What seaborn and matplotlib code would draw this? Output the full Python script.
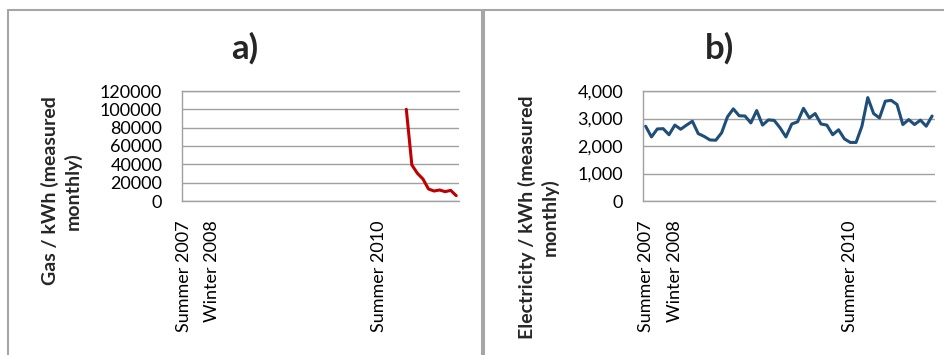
import numpy as np
import pandas as pd
import matplotlib
matplotlib.use("Agg")
import matplotlib.pyplot as plt
from matplotlib.lines import Line2D
from matplotlib.ticker import FuncFormatter, MultipleLocator
import seaborn as sns

# ---- data (monthly readings, 50 months starting summer 2007) ----
n_months = 50
elec_kwh = [2720, 2330, 2620, 2630, 2410, 2760, 2610, 2760, 2900, 2450,
            2350, 2220, 2210, 2480, 3060, 3350, 3100, 3090, 2840, 3290,
            2760, 2950, 2930, 2660, 2330, 2800, 2880, 3370, 3020, 3180,
            2800, 2760, 2410, 2590, 2260, 2130, 2130, 2720, 3760, 3180,
            3020, 3630, 3660, 3510, 2780, 2960, 2780, 2940, 2720, 3090]
gas_start = 40
gas_kwh = [100000, 39300, 30200, 24000, 13100, 10900, 12000, 10200, 11600, 5800]
x_label_pos = [0, 5, 35]
x_labels = ["Summer 2007", "Winter 2008", "Summer 2010"]
titles = ["a)", "b)"]
ylabels = ["Gas / kWh (measured\nmonthly)", "Electricity / kWh (measured\nmonthly)"]

elec_df = pd.DataFrame({"month": np.arange(n_months), "kwh": elec_kwh})
gas_df = pd.DataFrame({"month": np.arange(gas_start, gas_start + len(gas_kwh)), "kwh": gas_kwh})

sns.set_style("white")
plt.rcParams["font.family"] = ["Lato", "DejaVu Sans"]

W, H = 945, 355
fig = plt.figure(figsize=(W / 100, H / 100), dpi=100)

def fx(px):
    return px / W

def fy(py):
    return 1 - py / H

border = "#a6a6a6"
grid_c = "#a0a0a0"

# chart-area borders
for (x0, x1) in [(8.3, 481.7), (484.3, 960)]:
    fig.add_artist(Line2D([fx(x0), fx(x0)], [fy(9.7), fy(400)], color=border, lw=1.5, transform=fig.transFigure))
    fig.add_artist(Line2D([fx(x0), fx(x1)], [fy(9.7), fy(9.7)], color=border, lw=1.5, transform=fig.transFigure))
    fig.add_artist(Line2D([fx(x1), fx(x1)], [fy(9.7), fy(400)], color=border, lw=1.5, transform=fig.transFigure))

ax_a = fig.add_axes([fx(181.7), fy(201), fx(459) - fx(181.7), fy(91) - fy(201)])
ax_b = fig.add_axes([fx(642.7), fy(201), fx(935) - fx(642.7), fy(91) - fy(201)])

sns.lineplot(data=gas_df, x="month", y="kwh", ax=ax_a, color="#c00000", lw=2.2)
sns.lineplot(data=elec_df, x="month", y="kwh", ax=ax_b, color="#1f4e79", lw=2.2)

ax_a.set_ylim(0, 120000)
ax_a.yaxis.set_major_locator(MultipleLocator(20000))
ax_a.yaxis.set_major_formatter(FuncFormatter(lambda v, p: f"{int(v)}"))
ax_b.set_ylim(0, 4000)
ax_b.yaxis.set_major_locator(MultipleLocator(1000))
ax_b.yaxis.set_major_formatter(FuncFormatter(lambda v, p: f"{int(v):,}"))

for ax in (ax_a, ax_b):
    ax.set_xlim(-0.5, n_months - 0.5)
    ax.set_xticks(x_label_pos)
    ax.set_xticklabels(x_labels, rotation=90, va="top", ha="center")
    ax.set_xlabel("")
    ax.set_ylabel("")
    ax.grid(axis="y", color=grid_c, lw=1.0)
    ax.grid(axis="x", visible=False)
    ax.tick_params(axis="both", length=0, pad=14, labelsize=13, colors="black")
    for s in ("left", "bottom", "top"):
        ax.spines[s].set_color(grid_c)
        ax.spines[s].set_linewidth(1.0)
    ax.spines["right"].set_visible(False)
    ax.set_facecolor("white")

fig.text(fx(245), fy(48), titles[0], ha="center", va="center", fontsize=25, fontweight="bold")
fig.text(fx(720), fy(48), titles[1], ha="center", va="center", fontsize=25, fontweight="bold")
fig.text(fx(61), fy(191), ylabels[0], rotation=90, ha="center", va="center",
         multialignment="center", fontsize=14, fontweight="bold", linespacing=1.3)
fig.text(fx(538), fy(217), ylabels[1], rotation=90, ha="center", va="center",
         multialignment="center", fontsize=14, fontweight="bold", linespacing=1.3)

fig.savefig("out.png", dpi=100, facecolor="white")
